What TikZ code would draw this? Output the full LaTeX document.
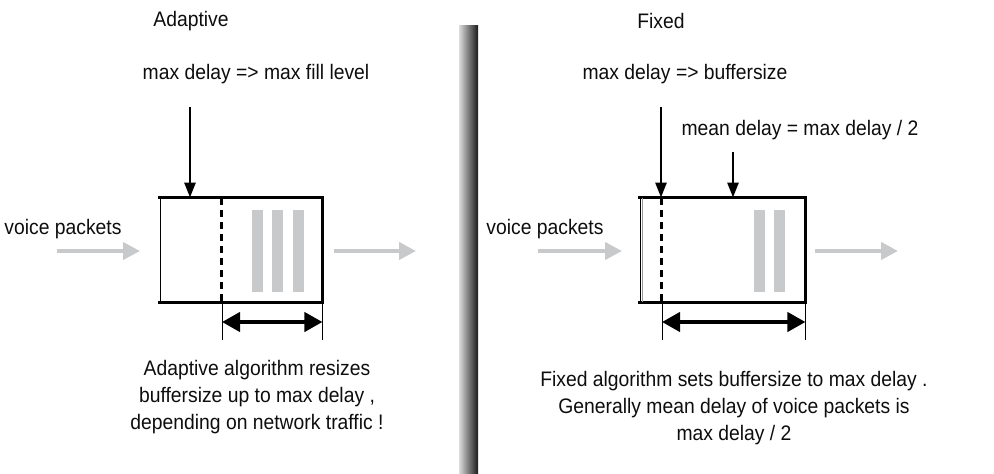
\documentclass[tikz,border=0pt]{standalone}
\usepackage{fontspec}
\setmainfont[FakeStretch=0.92]{Liberation Sans}
\usetikzlibrary{arrows.meta}
\definecolor{pktgray}{HTML}{C8C9CB}
\tikzset{
  lbl/.style={inner sep=0pt, font=\fontsize{21}{27}\selectfont, text=black!95},
  bufbox/.style={draw=black, line width=0.9pt, minimum width=#1, minimum height=104pt, inner sep=0pt, fill=white},
  thickedge/.style={line width=3.2pt, line cap=rect},
  dashline/.style={line width=3pt, dash pattern=on 7pt off 5pt},
  thinline/.style={line width=0.8pt},
  downarr/.style={line width=2.8pt, -{Triangle[length=15pt,width=11pt]}},
  pktarr/.style={pktgray, line width=4pt, -{Triangle[length=17pt,width=17pt]}},
  sizearr/.style={line width=4pt, {Triangle[length=18pt,width=19pt]}-{Triangle[length=18pt,width=19pt]}},
  pktbar/.style={fill=pktgray, draw=none},
}
\begin{document}
\begin{tikzpicture}[x=1pt,y=-1pt]
\useasboundingbox (0,0) rectangle (994,474);
% divider
\shade[left color=black!10, right color=black!90] (458,25) rectangle (478,474);
\draw[white, line width=0.8pt] (458,25) -- (458,474);

% ===== Adaptive =====
\node[lbl] (ltitle) at (191,21) {Adaptive};
\node[lbl] (lmax) at (256,74) {max delay => max fill level};
\node[bufbox=162pt] (lbox) at (241,250) {};
\draw[thickedge] (lbox.north west) -- (lbox.north east) -- (lbox.south east) -- (lbox.south west);
\foreach \x in {252,272,293} \fill[pktbar] (\x,210) rectangle ++(11,82);
\coordinate (ldash) at (221,198);
\draw[dashline] (ldash) -- (ldash |- lbox.south);
\coordinate (ldashb) at (222,340);
\draw[thinline] (ldashb |- lbox.south) -- (ldashb);
\draw[thinline] (lbox.south east) -- ++(0,38) coordinate (lrbe);
\draw[sizearr] (222,322) coordinate (lsa) -- (lsa -| lbox.east);
\coordinate (la1) at (190,107);
\draw[downarr] (la1) -- (la1 |- lbox.north);
\node[lbl] (lvoice) at (63,229) {voice packets};
\coordinate (lin) at (57,251);
\draw[pktarr] (lin) -- (140,251);
\coordinate (lout) at (334,251);
\draw[pktarr] (lout) -- (416,251);
\node[lbl] (ltext) at (257,397) {\begin{tabular}{@{}c@{}}Adaptive algorithm resizes\\ buffersize up to max delay ,\\ depending on network traffic !\end{tabular}};

% ===== Fixed =====
\node[lbl] (rtitle) at (661,21) {Fixed};
\node[lbl] (rmax) at (685,74) {max delay => buffersize};
\node[lbl] (rmean) at (800,130) {mean delay = max delay / 2};
\node[bufbox=165pt] (rbox) at (722.5,250) {};
\draw[thickedge] (rbox.north west) -- (rbox.north east) -- (rbox.south east) -- (rbox.south west);
\draw[thinline, black!40] ([xshift=3pt]rbox.north west) -- ([xshift=3pt]rbox.south west);
\foreach \x in {754,774} \fill[pktbar] (\x,210) rectangle ++(11,82);
\coordinate (rdash) at (661,198);
\draw[dashline] (rdash) -- (rdash |- rbox.south);
\coordinate (rdashb) at (662,340);
\draw[thinline] (rdashb |- rbox.south) -- (rdashb);
\draw[thinline] (rbox.south east) -- ++(0,38) coordinate (rrbe);
\draw[sizearr] (662,322) coordinate (rsa) -- (rsa -| rbox.east);
\coordinate (ra1) at (661,107);
\draw[downarr] (ra1) -- (ra1 |- rbox.north);
\coordinate (ra2) at (733,152);
\draw[downarr] (ra2) -- (ra2 |- rbox.north);
\node[lbl] (rvoice) at (545,229) {voice packets};
\coordinate (rin) at (538,251);
\draw[pktarr] (rin) -- (622,251);
\coordinate (rout) at (815,251);
\draw[pktarr] (rout) -- (898,251);
\node[lbl] (rtext) at (734,408) {\begin{tabular}{@{}c@{}}Fixed algorithm sets buffersize to max delay .\\ Generally mean delay of voice packets is\\ max delay / 2\end{tabular}};
\end{tikzpicture}
\end{document}
